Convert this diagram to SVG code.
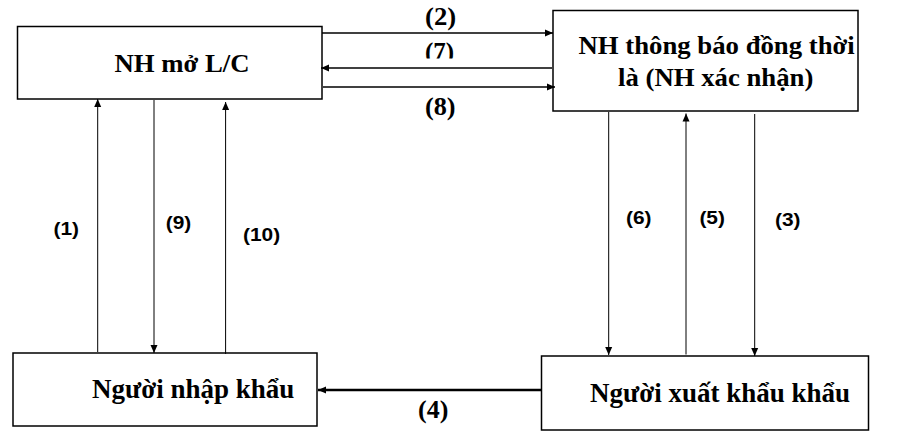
<svg xmlns="http://www.w3.org/2000/svg" width="911" height="445" viewBox="0 0 911 445">
<style>
.box{fill:#fff;stroke:#000;stroke-width:1.5}
.t{font-family:"Liberation Serif","Times New Roman",serif;font-weight:bold;fill:#000}
.n{font-family:"Liberation Sans",Arial,sans-serif;font-weight:bold;font-size:19px;fill:#000}
.h{stroke:#000;stroke-width:1.6;fill:none}
.v{stroke:#000;stroke-width:1;fill:none}
.thick{stroke:#000;stroke-width:2.6;fill:none}
</style>
<defs>
<marker id="arr" markerUnits="userSpaceOnUse" markerWidth="9" markerHeight="8" refX="8" refY="4" orient="auto">
<path d="M0,0.5 L8,4 L0,7.5 z" fill="#000"/>
</marker>
<clipPath id="clip7"><rect x="400" y="30" width="80" height="28.5"/></clipPath>
</defs>
<rect width="911" height="445" fill="#fff"/>
<g id="node-nh-mo-lc">
<rect class="box" x="17.5" y="26.5" width="304.5" height="72.5"/>
<text class="t" transform="translate(114.5,72) scale(1.07,1)" font-size="25">NH mở L/C</text>
</g>
<g id="node-nh-thong-bao">
<rect class="box" x="553" y="10.5" width="305" height="100.5"/>
<text class="t" transform="translate(578.5,54) scale(1.07,1)" font-size="25">NH thông báo đồng thời</text>
<text class="t" transform="translate(618,86) scale(1.07,1)" font-size="25">là (NH xác nhận)</text>
</g>
<g id="node-nguoi-nhap-khau">
<rect class="box" x="13" y="353" width="304" height="73"/>
<text class="t" x="92" y="398" font-size="27">Người nhập khẩu</text>
</g>
<g id="node-nguoi-xuat-khau">
<rect class="box" x="541.5" y="356" width="327" height="74"/>
<text class="t" x="590" y="401.5" font-size="27">Người xuất khẩu khẩu</text>
</g>
<g id="connectors">
<line class="h" x1="322" y1="33" x2="553" y2="33" marker-end="url(#arr)"/>
<line class="h" x1="552" y1="68" x2="321" y2="68" marker-end="url(#arr)"/>
<line class="h" x1="323" y1="87" x2="555" y2="87" marker-end="url(#arr)"/>
<line class="thick" x1="541" y1="390" x2="318" y2="390" marker-end="url(#arr)"/>
<line class="v" x1="97.7" y1="352" x2="97.7" y2="99" marker-end="url(#arr)"/>
<line class="v" x1="154" y1="100" x2="154" y2="353" marker-end="url(#arr)"/>
<line class="v" x1="225.6" y1="354" x2="225.6" y2="102" marker-end="url(#arr)"/>
<line class="v" x1="608.7" y1="112" x2="608.7" y2="355" marker-end="url(#arr)"/>
<line class="v" x1="686" y1="354.5" x2="686" y2="113.5" marker-end="url(#arr)"/>
<line class="v" x1="754.7" y1="114" x2="754.7" y2="356" marker-end="url(#arr)"/>
</g>
<g id="labels">
<text class="t" transform="translate(425,25) scale(1.07,1)" font-size="25">(2)</text>
<g clip-path="url(#clip7)"><text class="t" transform="translate(425,60)" font-size="25">(7)</text></g>
<text class="t" transform="translate(425,115) scale(1.05,1)" font-size="25">(8)</text>
<text class="t" transform="translate(418,418) scale(1.04,1)" font-size="25">(4)</text>
<text class="n" transform="translate(53.5,235) scale(1.1,1)">(1)</text>
<text class="n" transform="translate(165.7,228.5) scale(1.1,1)">(9)</text>
<text class="n" transform="translate(243,240.8) scale(1.1,1)">(10)</text>
<text class="n" transform="translate(626,223.5) scale(1.1,1)">(6)</text>
<text class="n" transform="translate(699.4,223.5) scale(1.1,1)">(5)</text>
<text class="n" transform="translate(775,225.8) scale(1.1,1)">(3)</text>
</g>
</svg>
